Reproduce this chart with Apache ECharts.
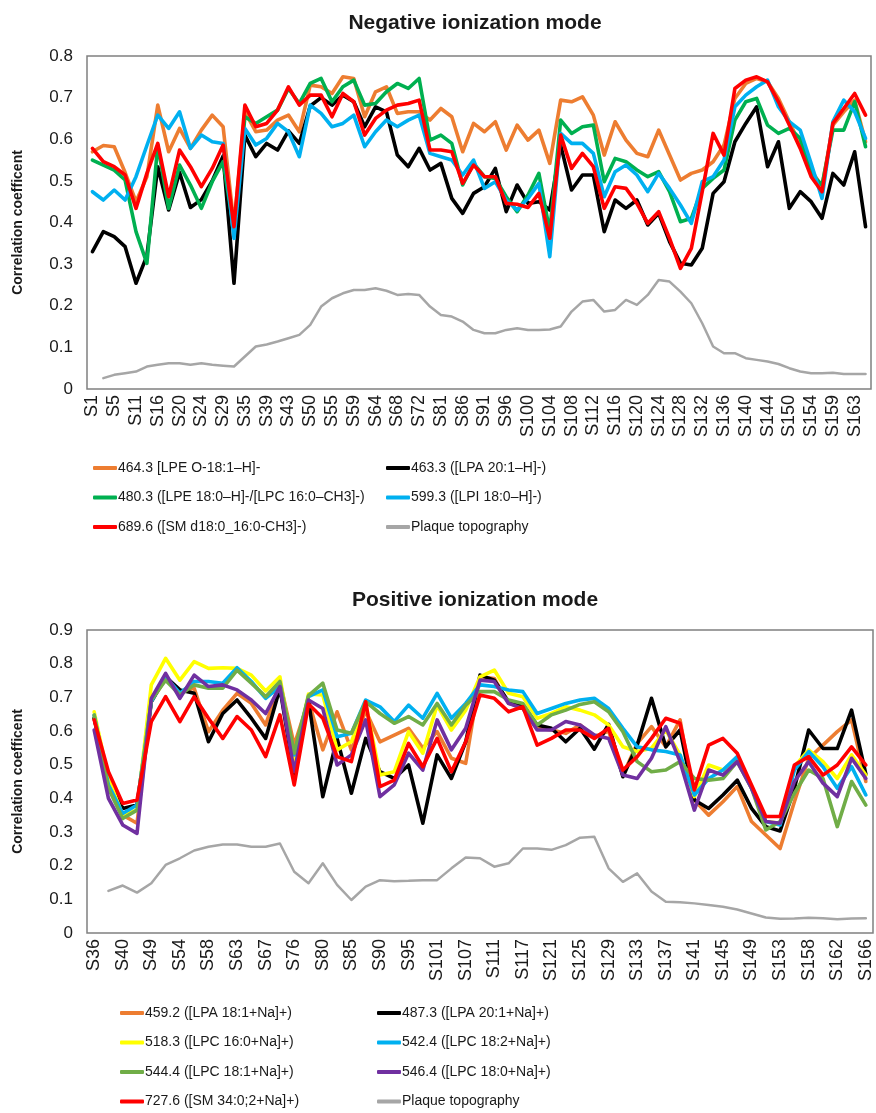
<!DOCTYPE html>
<html>
<head>
<meta charset="utf-8">
<script src="https://cdn.jsdelivr.net/npm/echarts@6/dist/echarts.min.js"></script>
<style>
  html, body { margin: 0; padding: 0; background: #fff; }
  #chart { width: 876px; height: 1113px; }
</style>
</head>
<body>
<div id="chart"></div>
<script>
// ---- Negative ionization mode ----
const negSamples = ['S1','S3','S5','S8','S11','S14','S16','S18','S20','S22','S24','S27','S29','S32','S35','S37','S39','S41','S43','S47',
  'S50','S53','S55','S57','S59','S62','S64','S66','S68','S70','S72','S77','S81','S84','S86','S89','S91','S94','S96','S98',
  'S100','S102','S104','S106','S108','S110','S112','S114','S116','S118','S120','S122','S124','S126','S128','S130','S132','S134','S136','S138',
  'S140','S142','S144','S147','S150','S152','S154','S157','S159','S161','S163','S165'];

const neg4643 = [0.57,0.585,0.582,0.52,0.45,0.51,0.682,0.57,0.626,0.578,0.622,0.658,0.63,0.394,0.666,0.618,0.622,0.646,0.658,0.618,
  0.73,0.726,0.71,0.75,0.746,0.654,0.714,0.726,0.662,0.666,0.666,0.646,0.674,0.654,0.57,0.638,0.618,0.642,0.574,0.634,
  0.598,0.622,0.542,0.694,0.69,0.702,0.658,0.562,0.642,0.598,0.566,0.558,0.622,0.562,0.502,0.518,0.526,0.546,0.586,0.698,
  0.734,0.746,0.738,0.698,0.642,0.586,0.526,0.486,0.634,0.666,0.694,0.594];
const neg4633 = [0.33,0.378,0.366,0.342,0.254,0.32,0.534,0.43,0.52,0.436,0.455,0.5,0.56,0.254,0.61,0.558,0.59,0.574,0.62,0.59,
  0.68,0.70,0.682,0.706,0.69,0.63,0.678,0.666,0.562,0.534,0.578,0.526,0.542,0.458,0.422,0.47,0.486,0.53,0.426,0.49,
  0.446,0.45,0.43,0.586,0.478,0.514,0.514,0.378,0.454,0.434,0.454,0.394,0.422,0.354,0.302,0.298,0.338,0.47,0.498,0.594,
  0.638,0.678,0.534,0.594,0.434,0.474,0.45,0.41,0.518,0.49,0.57,0.39];
const neg4803 = [0.55,0.538,0.526,0.502,0.378,0.302,0.586,0.434,0.538,0.49,0.434,0.498,0.546,0.38,0.654,0.638,0.654,0.67,0.722,0.686,
  0.734,0.746,0.69,0.726,0.742,0.682,0.686,0.714,0.734,0.722,0.746,0.598,0.61,0.59,0.49,0.542,0.51,0.506,0.462,0.426,
  0.466,0.518,0.378,0.646,0.614,0.63,0.634,0.498,0.554,0.546,0.526,0.51,0.522,0.474,0.402,0.41,0.482,0.506,0.526,0.646,
  0.69,0.698,0.634,0.614,0.626,0.602,0.518,0.49,0.622,0.622,0.69,0.582];
const neg5993 = [0.474,0.454,0.478,0.454,0.51,0.585,0.658,0.626,0.666,0.578,0.61,0.594,0.59,0.362,0.626,0.586,0.602,0.638,0.618,0.558,
  0.682,0.662,0.63,0.638,0.658,0.582,0.618,0.646,0.63,0.646,0.658,0.566,0.558,0.55,0.514,0.55,0.482,0.498,0.454,0.43,
  0.458,0.494,0.318,0.614,0.59,0.59,0.566,0.462,0.522,0.538,0.514,0.474,0.518,0.482,0.442,0.398,0.498,0.51,0.55,0.678,
  0.706,0.726,0.742,0.678,0.642,0.622,0.542,0.458,0.642,0.694,0.666,0.602];
const neg6896 = [0.578,0.546,0.534,0.514,0.434,0.518,0.59,0.462,0.574,0.534,0.486,0.53,0.586,0.39,0.682,0.63,0.638,0.67,0.726,0.682,
  0.706,0.706,0.654,0.71,0.69,0.61,0.65,0.67,0.682,0.686,0.694,0.574,0.574,0.57,0.494,0.538,0.51,0.51,0.446,0.444,
  0.436,0.47,0.362,0.61,0.53,0.566,0.534,0.434,0.486,0.482,0.446,0.398,0.426,0.362,0.29,0.338,0.474,0.614,0.562,0.722,
  0.742,0.75,0.738,0.69,0.634,0.578,0.51,0.474,0.638,0.674,0.71,0.658];
const negPlaque = [null,0.026,0.034,0.038,0.042,0.054,0.058,0.062,0.062,0.058,0.062,0.058,0.056,0.054,0.078,0.102,0.107,0.114,0.122,0.13,
  0.154,0.198,0.218,0.23,0.238,0.238,0.242,0.236,0.226,0.228,0.226,0.198,0.178,0.174,0.162,0.142,0.134,0.134,0.142,0.146,
  0.142,0.142,0.143,0.15,0.186,0.21,0.214,0.186,0.19,0.214,0.202,0.226,0.262,0.258,0.234,0.206,0.158,0.102,0.086,0.086,
  0.074,0.07,0.066,0.06,0.05,0.042,0.038,0.038,0.039,0.036,0.036,0.036];

// ---- Positive ionization mode ----
const posSamples = ['S36','S38','S40','S44','S49','S52','S54','S56','S58','S60','S63','S65','S67','S70','S76','S78','S80','S83','S85','S88',
  'S90','S92','S95','S98','S101','S104','S107','S109','S111','S114','S117','S119','S121','S123','S125','S127','S129','S131','S133','S135',
  'S137','S139','S141','S143','S145','S147','S149','S151','S153','S155','S158','S160','S162','S164','S166'];

const pos4592 = [0.638,0.44,0.35,0.326,0.687,0.756,0.717,0.727,0.598,0.662,0.712,0.682,0.618,0.747,0.558,0.69,0.544,0.657,0.544,0.66,
  0.568,0.588,0.608,0.549,0.598,0.519,0.504,0.761,0.756,0.682,0.672,0.608,0.603,0.593,0.618,0.583,0.6,0.469,0.563,0.613,
  0.553,0.633,0.395,0.35,0.39,0.435,0.331,0.291,0.251,0.39,0.519,0.558,0.598,0.633,0.45];
const pos4873 = [0.638,0.45,0.37,0.38,0.687,0.761,0.722,0.712,0.568,0.652,0.692,0.638,0.578,0.727,0.47,0.69,0.405,0.578,0.415,0.578,
  0.479,0.459,0.499,0.326,0.529,0.459,0.568,0.766,0.751,0.687,0.677,0.618,0.608,0.568,0.608,0.546,0.62,0.464,0.558,0.697,
  0.553,0.603,0.395,0.37,0.41,0.454,0.37,0.316,0.303,0.43,0.603,0.548,0.548,0.662,0.472];
const pos5183 = [0.657,0.46,0.35,0.365,0.737,0.816,0.751,0.806,0.786,0.788,0.786,0.766,0.719,0.761,0.509,0.71,0.707,0.544,0.568,0.682,
  0.469,0.479,0.598,0.534,0.677,0.603,0.662,0.761,0.781,0.712,0.702,0.638,0.652,0.672,0.662,0.648,0.618,0.553,0.539,0.549,
  0.603,0.529,0.405,0.499,0.484,0.519,0.435,0.331,0.326,0.494,0.544,0.509,0.459,0.529,0.469];
const pos5424 = [0.647,0.44,0.355,0.38,0.687,0.761,0.712,0.747,0.747,0.742,0.788,0.747,0.697,0.732,0.529,0.702,0.722,0.583,0.593,0.692,
  0.672,0.628,0.677,0.638,0.712,0.638,0.682,0.737,0.732,0.722,0.717,0.652,0.667,0.682,0.692,0.697,0.667,0.608,0.553,0.544,
  0.539,0.529,0.41,0.459,0.484,0.524,0.43,0.331,0.321,0.484,0.539,0.494,0.43,0.494,0.41];
const pos5444 = [0.647,0.43,0.34,0.365,0.692,0.751,0.707,0.737,0.727,0.727,0.781,0.742,0.702,0.747,0.534,0.705,0.742,0.603,0.593,0.687,
  0.652,0.623,0.643,0.618,0.682,0.618,0.677,0.717,0.717,0.692,0.682,0.618,0.648,0.662,0.679,0.687,0.657,0.598,0.509,0.479,
  0.484,0.509,0.459,0.454,0.459,0.509,0.43,0.306,0.331,0.415,0.484,0.459,0.316,0.45,0.38];
const pos5464 = [0.603,0.4,0.321,0.296,0.697,0.771,0.697,0.766,0.732,0.737,0.722,0.692,0.652,0.732,0.479,0.692,0.667,0.499,0.529,0.633,
  0.405,0.44,0.534,0.484,0.633,0.544,0.608,0.751,0.747,0.682,0.667,0.603,0.603,0.628,0.618,0.588,0.578,0.469,0.459,0.519,
  0.613,0.509,0.365,0.484,0.469,0.509,0.43,0.331,0.326,0.45,0.509,0.445,0.405,0.519,0.459];
const pos7276 = [0.633,0.479,0.385,0.395,0.628,0.702,0.628,0.702,0.638,0.578,0.643,0.603,0.524,0.648,0.44,0.68,0.638,0.524,0.509,0.687,
  0.435,0.454,0.563,0.494,0.578,0.479,0.568,0.707,0.697,0.657,0.672,0.558,0.578,0.603,0.603,0.578,0.608,0.484,0.524,0.578,
  0.638,0.623,0.425,0.558,0.578,0.534,0.44,0.346,0.346,0.499,0.524,0.469,0.499,0.553,0.499];
const posPlaque = [null,0.125,0.141,0.12,0.148,0.202,0.222,0.245,0.256,0.263,0.263,0.256,0.256,0.266,0.182,0.148,0.207,0.143,0.098,0.138,
  0.157,0.154,0.155,0.157,0.157,0.192,0.224,0.222,0.197,0.207,0.251,0.251,0.247,0.261,0.283,0.286,0.192,0.152,0.177,0.123,
  0.093,0.091,0.088,0.083,0.078,0.07,0.058,0.046,0.042,0.043,0.045,0.044,0.041,0.043,0.044];

const FONT = '"Liberation Sans", Arial, sans-serif';
const TXT = '#1a1a1a';
const PLAQUE = 'Plaque topography';

const negSeries = [
  { name: '464.3 [LPE O-18:1\u2013H]-', color: '#ED7D31', data: neg4643 },
  { name: '463.3 ([LPA 20:1\u2013H]-)', color: '#000000', data: neg4633 },
  { name: '480.3 ([LPE 18:0\u2013H]-/[LPC 16:0\u2013CH3]-)', color: '#00B050', data: neg4803 },
  { name: '599.3 ([LPI 18:0\u2013H]-)', color: '#00B0F0', data: neg5993 },
  { name: '689.6 ([SM d18:0_16:0-CH3]-)', color: '#FF0000', data: neg6896 },
  { name: PLAQUE, color: '#A6A6A6', data: negPlaque, thin: true }
];
const posSeries = [
  { name: '459.2 ([LPA 18:1+Na]+)', color: '#ED7D31', data: pos4592 },
  { name: '487.3 ([LPA 20:1+Na]+)', color: '#000000', data: pos4873 },
  { name: '518.3 ([LPC 16:0+Na]+)', color: '#FFFF00', data: pos5183 },
  { name: '542.4 ([LPC 18:2+Na]+)', color: '#00B0F0', data: pos5424 },
  { name: '544.4 ([LPC 18:1+Na]+)', color: '#70AD47', data: pos5444 },
  { name: '546.4 ([LPC 18:0+Na]+)', color: '#7030A0', data: pos5464 },
  { name: '727.6 ([SM 34:0;2+Na]+)', color: '#FF0000', data: pos7276 },
  { name: PLAQUE + ' ', color: '#A6A6A6', data: posPlaque, thin: true }
];

function lineSeries(list, idx) {
  return list.map(s => ({
    type: 'line',
    name: s.name,
    xAxisIndex: idx,
    yAxisIndex: idx,
    data: s.data,
    symbol: 'none',
    connectNulls: false,
    color: s.color,
    lineStyle: { color: s.color, width: s.thin ? 2.5 : 3.6, join: 'round', cap: 'round' },
    emphasis: { disabled: true }
  }));
}

function xAxis(cats, idx) {
  return {
    type: 'category', gridIndex: idx, data: cats, boundaryGap: true,
    axisLine: { show: false }, axisTick: { show: false },
    axisLabel: { interval: 1, rotate: 90, margin: 6, fontSize: 18, fontFamily: FONT, color: TXT }
  };
}
function yAxis(max, idx) {
  return {
    type: 'value', gridIndex: idx, min: 0, max: max, interval: 0.1,
    axisLine: { show: false }, axisTick: { show: false }, splitLine: { show: false },
    axisLabel: { margin: 14, fontSize: 17, fontFamily: FONT, color: TXT },
    name: 'Correlation coefficent', nameLocation: 'middle', nameRotate: 90, nameGap: 62,
    nameTextStyle: { fontSize: 14, fontWeight: 'bold', fontFamily: FONT, color: TXT }
  };
}
function legend(names, left, top, rows) {
  return {
    data: names, left: left, top: top, height: rows * 30 + 4, orient: 'vertical', itemGap: 11.5,
    itemWidth: 24, itemHeight: 4, icon: 'roundRect', selectedMode: false, padding: 0,
    textStyle: { fontSize: 14, fontFamily: FONT, color: TXT, lineHeight: 18, padding: [0, 0, 0, -4] }
  };
}

const chart = echarts.init(document.getElementById('chart'), null, { renderer: 'canvas' });
chart.setOption({
  animation: false,
  backgroundColor: '#ffffff',
  title: [
    { text: 'Negative ionization mode', left: 470, top: 8, textAlign: 'center',
      textStyle: { fontSize: 21, fontWeight: 'bold', fontFamily: FONT, color: TXT } },
    { text: 'Positive ionization mode', left: 470, top: 585, textAlign: 'center',
      textStyle: { fontSize: 21, fontWeight: 'bold', fontFamily: FONT, color: TXT } }
  ],
  grid: [
    { left: 87, right: 5, top: 56, height: 333, show: true, borderColor: '#808080', borderWidth: 1.5, backgroundColor: 'transparent' },
    { left: 87, right: 3, top: 630, height: 303, show: true, borderColor: '#808080', borderWidth: 1.5, backgroundColor: 'transparent' }
  ],
  xAxis: [xAxis(negSamples, 0), xAxis(posSamples, 1)],
  yAxis: [yAxis(0.8, 0), yAxis(0.9, 1)],
  legend: [
    legend([negSeries[0].name, negSeries[2].name, negSeries[4].name], 93, 459, 3),
    legend([negSeries[1].name, negSeries[3].name, negSeries[5].name], 386, 459, 3),
    legend([posSeries[0].name, posSeries[2].name, posSeries[4].name, posSeries[6].name], 120, 1004, 4),
    legend([posSeries[1].name, posSeries[3].name, posSeries[5].name, posSeries[7].name], 377, 1004, 4)
  ],
  series: lineSeries(negSeries, 0).concat(lineSeries(posSeries, 1))
});
</script>
</body>
</html>
